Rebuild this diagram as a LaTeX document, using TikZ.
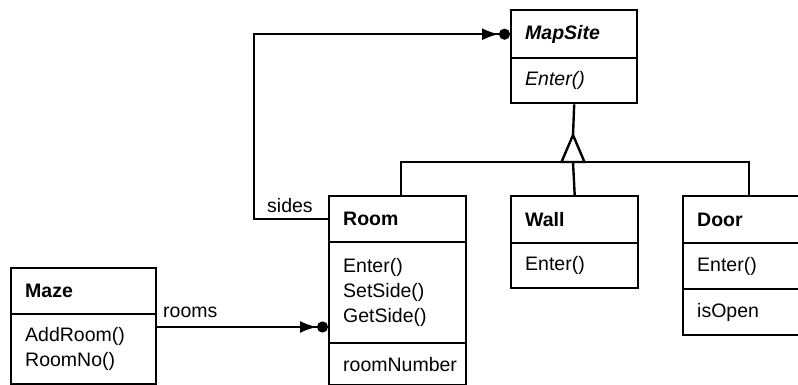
\documentclass[tikz,border=0pt]{standalone}
\usepackage{fontspec}
\setmainfont{Liberation Sans}
\usetikzlibrary{arrows.meta,positioning}
\newcommand\umlfont{\fontsize{19.5}{25}\selectfont}

\begin{document}
\begin{tikzpicture}[
    x=1pt, y=-1pt,
    compart/.style={draw, line width=2.4pt, anchor=north west, align=left, inner xsep=14pt, inner ysep=0pt, font=\umlfont},
    clsname/.style={compart, font=\umlfont\bfseries},
    aggr/.style={-{Latex[length=17pt,width=12pt]Circle[length=11pt]}, line width=2.4pt},
    link/.style={line width=2.4pt},
    lbl/.style={font=\umlfont, inner sep=0pt, anchor=base west}
]
    \useasboundingbox (0,0) rectangle (798,385);
    \clip (0,0) rectangle (798,385);

    % MapSite (abstract)
    \node[clsname, text width=98pt, minimum height=48pt, font=\umlfont\bfseries\itshape] (mapTitle) at (510,9) {MapSite};
    \node[compart, text width=98pt, minimum height=45pt, font=\umlfont\itshape] (mapOps) at (510,57) {Enter()};

    % Room
    \node[clsname, text width=109pt, minimum height=46pt] (roomTitle) at (328,195) {Room};
    \node[compart, text width=109pt, minimum height=101pt] (roomOps) at (328,241) {Enter()\\SetSide()\\GetSide()};
    \node[compart, text width=109pt, minimum height=42pt] (roomAttr) at (328,342) {roomNumber};

    % Wall
    \node[clsname, text width=99pt, minimum height=47pt] (wallTitle) at (510,195) {Wall};
    \node[compart, text width=99pt, minimum height=45pt] (wallOps) at (510,242) {Enter()};

    % Door
    \node[clsname, text width=104pt, minimum height=47pt] (doorTitle) at (682,195) {Door};
    \node[compart, text width=104pt, minimum height=46pt] (doorOps) at (682,242) {Enter()};
    \node[compart, text width=104pt, minimum height=46pt] (doorAttr) at (682,288) {isOpen};

    % Maze
    \node[clsname, text width=117pt, minimum height=46pt] (mazeTitle) at (10,267) {Maze};
    \node[compart, text width=117pt, minimum height=70pt] (mazeOps) at (10,313) {AddRoom()\\RoomNo()};

    % inheritance
    \coordinate (gen) at (573,162);
    \coordinate (apex) at (573,135);
    \draw[link] ([xshift=3.5pt]roomTitle.north) |- (gen -| doorTitle.north) -- (doorTitle.north);
    \draw[link] (wallTitle.north) -- (gen);
    \draw[link] (mapOps.south) -- (apex);
    \draw[link, fill=white] (apex) -- ([xshift=-11.5pt]gen) -- ([xshift=11.5pt]gen) -- cycle;

    % sides
    \coordinate (sidesX) at (254,0);
    \draw[aggr] (roomTitle.west) -| (sidesX |- mapTitle.west) -- (mapTitle.west);
    \node[lbl] (sidesLbl) at (267,212) {sides};

    % rooms
    \coordinate (roomsStart) at ([yshift=-14pt]mazeOps.north east);
    \draw[aggr] (roomsStart) -- (roomsStart -| roomOps.west);
    \node[lbl] (roomsLbl) at (163,317) {rooms};
\end{tikzpicture}
\end{document}
